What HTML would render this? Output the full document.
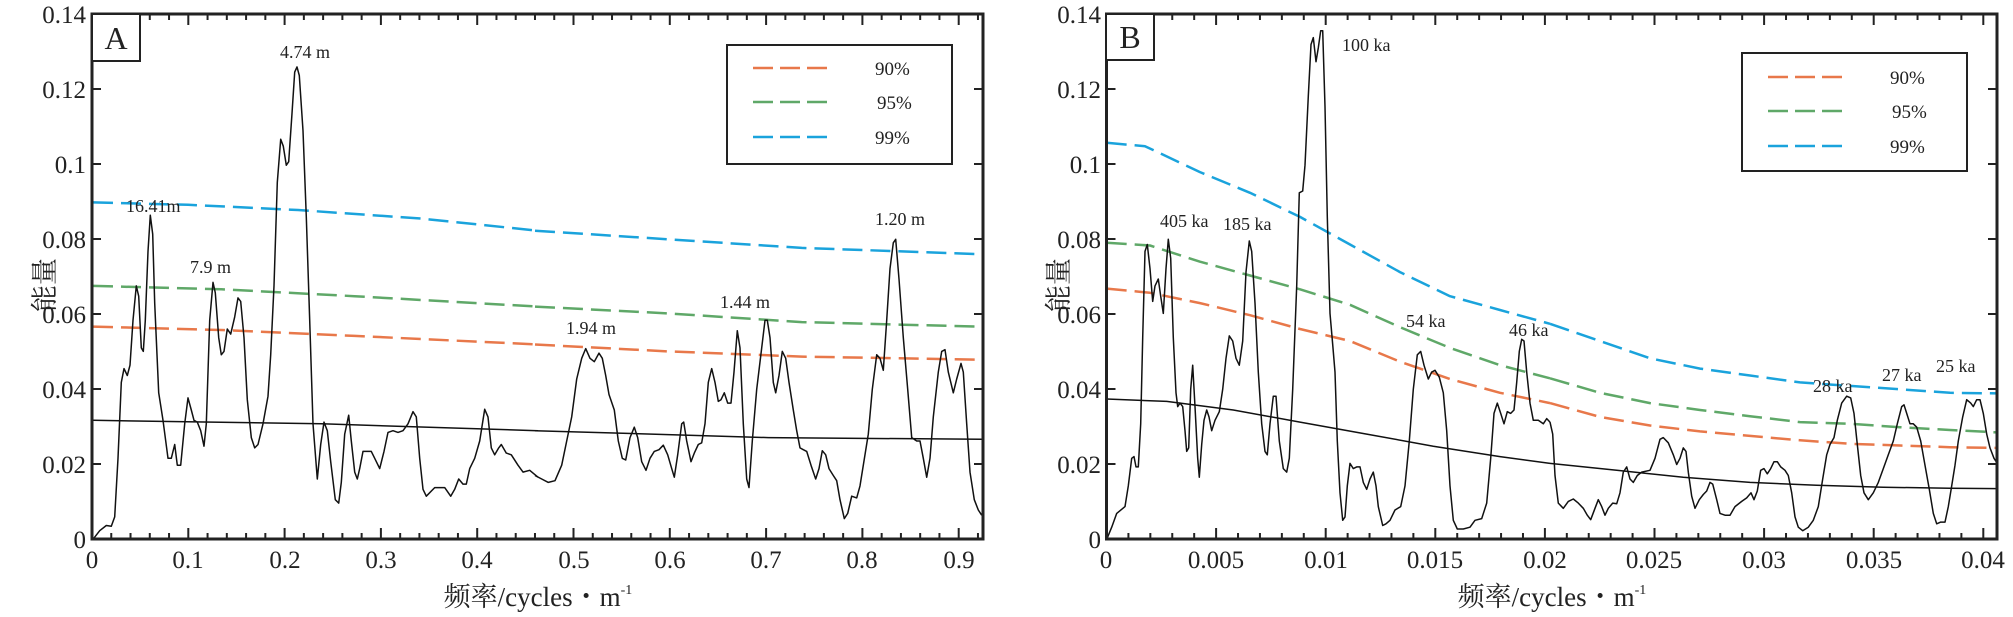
<!DOCTYPE html>
<html><head><meta charset="utf-8"><style>
html,body{margin:0;padding:0;background:#fff;}
svg{display:block;font-family:"Liberation Serif","Noto Serif CJK SC",serif;}
</style></head><body>
<svg id="s" width="2013" height="617" viewBox="0 0 2013 617" xmlns="http://www.w3.org/2000/svg">
<rect width="2013" height="617" fill="#fff"/>
<g id="g"></g>
<!-- A texts -->
<g font-size="25" fill="#222" text-anchor="end">
<text x="86" y="23">0.14</text><text x="86" y="98">0.12</text><text x="86" y="173">0.1</text>
<text x="86" y="248">0.08</text><text x="86" y="323">0.06</text><text x="86" y="398">0.04</text>
<text x="86" y="473">0.02</text><text x="86" y="548">0</text>
<text x="1101" y="23">0.14</text><text x="1101" y="98">0.12</text><text x="1101" y="173">0.1</text>
<text x="1101" y="248">0.08</text><text x="1101" y="323">0.06</text><text x="1101" y="398">0.04</text>
<text x="1101" y="473">0.02</text><text x="1101" y="548">0</text>
</g>
<g font-size="25" fill="#222" text-anchor="middle">
<text x="92" y="568">0</text><text x="188" y="568">0.1</text><text x="285" y="568">0.2</text>
<text x="381" y="568">0.3</text><text x="477" y="568">0.4</text><text x="574" y="568">0.5</text>
<text x="670" y="568">0.6</text><text x="766" y="568">0.7</text><text x="862" y="568">0.8</text>
<text x="959" y="568">0.9</text>
<text x="1106" y="568">0</text><text x="1216" y="568">0.005</text><text x="1326" y="568">0.01</text>
<text x="1435" y="568">0.015</text><text x="1545" y="568">0.02</text><text x="1654" y="568">0.025</text>
<text x="1764" y="568">0.03</text><text x="1874" y="568">0.035</text><text x="1983" y="568">0.04</text>
</g>
<g font-size="27" fill="#222" text-anchor="middle">
<text x="538" y="606">频率/cycles・m<tspan font-size="14" dy="-12">-1</tspan></text>
<text x="1552" y="606">频率/cycles・m<tspan font-size="14" dy="-12">-1</tspan></text>
<text transform="translate(54,285) rotate(-90)">能量</text>
<text transform="translate(1068,285) rotate(-90)">能量</text>
</g>
<g font-size="18" fill="#222">
<text x="280" y="58">4.74 m</text><text x="126" y="212">16.41m</text><text x="190" y="273">7.9 m</text>
<text x="566" y="334">1.94 m</text><text x="720" y="308">1.44 m</text><text x="875" y="225">1.20 m</text>
<text x="1342" y="51">100 ka</text><text x="1160" y="227">405 ka</text><text x="1223" y="230">185 ka</text>
<text x="1406" y="327">54 ka</text><text x="1509" y="336">46 ka</text><text x="1813" y="392">28 ka</text>
<text x="1882" y="381">27 ka</text><text x="1936" y="372">25 ka</text>
</g>
<!-- legends -->
<rect x="727" y="45" width="225" height="119" fill="#fff" stroke="#222" stroke-width="2"/>
<g stroke-width="2.5" stroke-dasharray="20,7">
<line x1="753" y1="68" x2="828" y2="68" stroke="#e8784a"/>
<line x1="753" y1="102" x2="828" y2="102" stroke="#5fa868"/>
<line x1="753" y1="137" x2="828" y2="137" stroke="#1aa3dc"/>
</g>
<g font-size="19" fill="#222"><text x="875" y="75">90%</text><text x="877" y="109">95%</text><text x="875" y="144">99%</text></g>
<rect x="1742" y="53" width="225" height="118" fill="#fff" stroke="#222" stroke-width="2"/>
<g stroke-width="2.5" stroke-dasharray="20,7">
<line x1="1768" y1="77" x2="1843" y2="77" stroke="#e8784a"/>
<line x1="1768" y1="111" x2="1843" y2="111" stroke="#5fa868"/>
<line x1="1768" y1="146" x2="1843" y2="146" stroke="#1aa3dc"/>
</g>
<g font-size="19" fill="#222"><text x="1890" y="84">90%</text><text x="1892" y="118">95%</text><text x="1890" y="153">99%</text></g>
<!-- panel letters -->
<rect x="92" y="14" width="48" height="47" fill="#fff" stroke="#222" stroke-width="2"/>
<text x="116" y="49" font-size="32" text-anchor="middle" fill="#222">A</text>
<rect x="1106" y="14" width="48" height="46" fill="#fff" stroke="#222" stroke-width="2"/>
<text x="1130" y="48" font-size="32" text-anchor="middle" fill="#222">B</text>
</svg>
<script>
var g=document.getElementById('g');var NS='http://www.w3.org/2000/svg';
function add(tag,attrs){var e=document.createElementNS(NS,tag);for(var k in attrs)e.setAttribute(k,attrs[k]);g.appendChild(e);return e;}
function pl(ox,a,col,w,dash){var p=[];for(var i=0;i<a.length;i+=2)p.push((ox+a[i]/3).toFixed(1)+','+(10+a[i+1]/2.9).toFixed(1));var at={points:p.join(' '),fill:'none',stroke:col,'stroke-width':w,'stroke-linejoin':'round'};if(dash)at['stroke-dasharray']=dash;add('polyline',at);}
function clip(id,x,y,w,h){var c=document.createElementNS(NS,'clipPath');c.setAttribute('id',id);var r=document.createElementNS(NS,'rect');r.setAttribute('x',x);r.setAttribute('y',y);r.setAttribute('width',w);r.setAttribute('height',h);c.appendChild(r);g.appendChild(c);}
var OR='#e8784a',GR='#5fa868',BL='#1aa3dc',K='#111';
// Panel A
var A1=[15,1535,35,1510,55,1495,70,1497,80,1470,90,1300,100,1080,108,1040,118,1060,126,1030,135,900,145,800,152,830,160,980,166,990,172,900,180,700,187,595,194,650,200,850,207,1000,212,1110,225,1190,240,1300,250,1300,260,1260,268,1320,278,1320,290,1200,300,1125,310,1160,318,1190,328,1195,338,1220,348,1265,355,1200,365,900,375,790,382,820,392,950,400,1000,408,990,418,925,428,940,440,890,450,835,458,845,468,950,478,1130,490,1240,500,1270,510,1260,525,1200,540,1120,548,1000,558,800,568,500,578,375,586,395,595,450,602,440,612,300,620,180,627,165,634,190,645,350,655,600,665,900,675,1200,688,1360,698,1260,708,1195,718,1220,728,1310,742,1420,752,1430,760,1370,770,1230,782,1175,790,1250,800,1340,808,1360,815,1330,825,1280,840,1280,850,1280,860,1300,875,1330,888,1280,900,1225,915,1220,930,1225,945,1220,960,1200,975,1165,985,1180,995,1300,1005,1390,1015,1410,1040,1385,1070,1385,1088,1410,1100,1390,1112,1360,1125,1375,1135,1375,1145,1330,1160,1300,1175,1250,1190,1158,1200,1180,1210,1270,1220,1290,1232,1270,1240,1260,1255,1285,1270,1290,1290,1320,1305,1340,1325,1335,1350,1355];
var A2=[0,1350,20,1360,40,1370,60,1365,80,1320,95,1250,110,1180,125,1070,140,1010,152,982,165,1010,178,1020,192,995,202,1010,212,1060,222,1115,238,1160,250,1250,262,1300,272,1305,285,1240,298,1210,308,1240,320,1310,333,1335,345,1300,358,1280,372,1275,385,1262,398,1290,410,1330,418,1355,428,1290,440,1200,446,1195,455,1250,468,1310,478,1285,490,1260,500,1255,510,1200,520,1080,530,1040,540,1080,550,1135,558,1130,568,1110,578,1140,588,1140,597,1050,607,930,615,980,625,1200,635,1360,642,1385,652,1250,665,1100,680,980,690,900,697,900,705,950,715,1080,722,1110,732,1060,742,990,752,1010,762,1080,775,1160,785,1220,795,1270,805,1275,815,1280,828,1320,842,1360,852,1330,862,1278,872,1290,882,1330,895,1350,905,1365,915,1420,928,1475,938,1460,950,1410,965,1415,975,1380,985,1320,1000,1230,1012,1100,1025,1000,1035,1010,1045,1045,1055,900,1065,750,1075,675,1082,665,1092,780,1105,950,1118,1100,1130,1240,1145,1250,1155,1250,1165,1300,1175,1355,1185,1300,1195,1180,1210,1050,1220,990,1230,985,1240,1050,1255,1110,1265,1070,1278,1025,1285,1050,1295,1200,1305,1340,1318,1420,1330,1450,1340,1465];
var D='20,8';
pl(88,[15,558,300,565,630,580,1000,605,1350,640],BL,2.5,D);pl(535,[0,640,400,665,800,690,1330,708],BL,2.5,D);
pl(88,[15,800,400,810,800,830,1350,860],GR,2.5,D);pl(535,[0,860,400,880,800,905,1330,918],GR,2.5,D);
pl(88,[15,918,400,928,800,945,1350,970],OR,2.5,D);pl(535,[0,970,400,990,800,1005,1330,1014],OR,2.5,D);
pl(88,[15,1190,700,1200,1350,1220],K,1.5);pl(535,[0,1220,700,1240,1340,1245],K,1.5);
pl(88,A1,K,1.5);pl(535,A2,K,1.5);
// Panel B
var B1=[20,1535,35,1500,50,1460,65,1448,75,1440,85,1380,95,1300,102,1295,108,1325,115,1325,122,1200,128,950,135,700,142,680,150,750,158,845,165,800,175,780,182,830,190,880,198,750,205,665,212,720,220,950,228,1110,233,1150,240,1140,248,1150,255,1220,260,1280,266,1270,272,1100,278,1030,285,1150,293,1300,298,1355,305,1260,312,1190,320,1160,327,1180,335,1220,345,1190,358,1165,368,1100,378,1010,388,945,398,960,408,1010,418,1030,428,960,438,760,448,670,455,700,465,850,475,1050,485,1200,495,1280,502,1290,510,1200,520,1120,528,1120,538,1250,550,1330,560,1340,568,1300,578,1100,590,800,598,530,608,525,615,450,625,250,633,100,640,80,648,150,655,110,662,60,668,60,675,280,682,600,690,880,698,970,705,1050,712,1250,720,1400,728,1480,735,1470,742,1380,750,1315,760,1330,770,1325,780,1325,790,1370,800,1390,810,1360,820,1340,828,1380,835,1440,848,1495,858,1490,870,1480,885,1450,902,1440,915,1380,928,1250,940,1100,952,1000,962,990,972,1030,985,1070,995,1050,1005,1045,1018,1065,1030,1110,1040,1220,1050,1380,1060,1480,1072,1505,1090,1505,1110,1500,1125,1480,1145,1475,1160,1430,1172,1300,1182,1170,1192,1140,1202,1170,1212,1200,1222,1165,1232,1170,1242,1160,1250,1080,1258,990,1265,955,1272,960,1280,1050,1290,1140,1300,1190,1315,1190,1330,1200,1340,1185,1350,1195];
var B2=[0,1195,8,1230,15,1350,25,1430,40,1445,55,1425,70,1418,85,1430,100,1445,112,1465,122,1478,135,1445,145,1420,155,1440,165,1465,175,1445,188,1430,200,1432,210,1400,220,1340,230,1325,240,1360,250,1370,262,1350,275,1340,300,1335,315,1300,330,1245,340,1240,355,1255,370,1290,380,1318,390,1300,400,1270,408,1280,415,1340,425,1410,435,1445,448,1420,460,1405,470,1395,480,1370,488,1375,500,1420,510,1460,525,1465,540,1465,555,1440,575,1425,590,1415,603,1400,612,1420,622,1395,632,1335,642,1330,652,1345,662,1330,672,1310,682,1310,692,1325,705,1335,715,1350,725,1400,735,1470,745,1500,758,1510,775,1500,790,1480,805,1440,818,1360,830,1290,840,1260,852,1240,862,1190,875,1140,890,1120,902,1125,912,1170,922,1260,932,1350,942,1400,955,1420,970,1400,985,1370,1000,1330,1015,1290,1030,1250,1042,1200,1055,1150,1062,1145,1070,1170,1080,1200,1090,1200,1100,1210,1112,1250,1125,1320,1138,1390,1150,1460,1160,1490,1172,1485,1185,1485,1195,1440,1205,1380,1215,1320,1225,1250,1238,1180,1250,1130,1262,1140,1270,1150,1280,1130,1290,1130,1300,1170,1310,1230,1320,1270,1332,1300,1342,1315];
pl(1100,[20,385,135,395,300,470,450,530,600,600,750,680,900,760,1050,830,1200,870,1350,910],BL,2.5,D);
pl(1550,[0,910,150,960,300,1010,450,1040,600,1060,750,1080,900,1090,1050,1100,1200,1110,1342,1112],BL,2.5,D);
pl(1100,[20,675,150,683,300,730,450,770,600,810,750,855,900,920,1050,980,1200,1030,1350,1068],GR,2.5,D);
pl(1550,[0,1068,150,1110,300,1140,450,1160,600,1178,750,1195,900,1200,1050,1210,1200,1218,1342,1225],GR,2.5,D);
pl(1100,[20,808,150,820,300,850,450,885,600,925,750,960,900,1020,1050,1070,1200,1110,1350,1140],OR,2.5,D);
pl(1550,[0,1140,150,1180,300,1205,450,1222,600,1235,750,1248,900,1258,1050,1263,1200,1268,1342,1270],OR,2.5,D);
pl(1100,[20,1128,200,1135,400,1160,600,1195,800,1230,1000,1265,1200,1295,1350,1315],K,1.5);
pl(1550,[0,1315,200,1335,400,1355,600,1370,800,1378,1000,1384,1200,1387,1342,1388],K,1.5);
pl(1100,B1,K,1.5);pl(1550,B2,K,1.5);
// axes
function frame(x0,x1,y0,y1,major,minorN,maj0){
 add('rect',{x:x0,y:y0,width:x1-x0,height:y1-y0,fill:'none',stroke:'#222','stroke-width':3});
 var step=major/minorN;
 for(var i=0;;i++){var x=x0+i*step;if(x>x1-1)break;var L=(i%minorN==0)?11:6;
  add('line',{x1:x,y1:y1,x2:x,y2:y1-L,stroke:'#222','stroke-width':2});
  add('line',{x1:x,y1:y0,x2:x,y2:y0+L,stroke:'#222','stroke-width':2});}
 for(var j=1;j<7;j++){var y=y1-j*75;
  add('line',{x1:x0,y1:y,x2:x0+9,y2:y,stroke:'#222','stroke-width':2});
  add('line',{x1:x1,y1:y,x2:x1-9,y2:y,stroke:'#222','stroke-width':2});}
}
frame(92,983,14,539,96.3,5);
frame(1106.5,1997,14,539,109.6,5);
// move frames below legends: re-append legend etc. is fine since legends are drawn after g
</script>
</body></html>
